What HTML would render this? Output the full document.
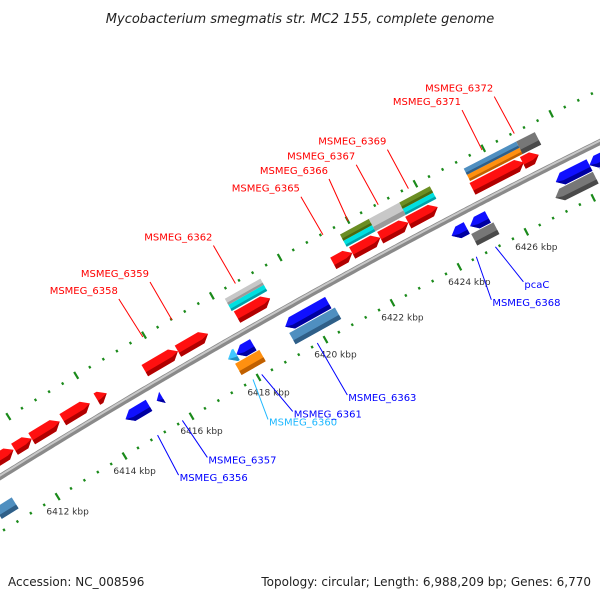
<!DOCTYPE html>
<html><head><meta charset="utf-8"><style>
html,body{margin:0;padding:0;background:#fff;}
svg{display:block;font-family:"DejaVu Sans","Liberation Sans",sans-serif;}
</style></head><body>
<svg id="map" width="600" height="600" viewBox="0 0 600 600" xmlns="http://www.w3.org/2000/svg">
<text x="300" y="23" text-anchor="middle" font-size="13" font-style="italic" fill="#222">Mycobacterium smegmatis str. MC2 155, complete genome</text>
<g id="ticks"></g>
<path id="bb" fill="none" stroke="#8a8a8a" stroke-width="6"/>
<path id="bb2" fill="none" stroke="#c8c8c8" stroke-width="2"/>
<g id="feats"></g>
<g id="labels"></g>
<text x="8" y="586" font-size="12" fill="#222">Accession: NC_008596</text>
<text x="591" y="586" font-size="12" text-anchor="end" fill="#222">Topology: circular; Length: 6,988,209 bp; Genes: 6,770</text>
</svg>
<script>
const featStart=[6410.66,6411.70,6412.21,6413.13,6414.14,6415.56,6416.54,6418.29,6421.14,6421.70,6422.53,6423.36,6425.26,6426.75,
 6418.25,6418.25,6421.65,6421.65,6422.5,6423.4,6423.4,6425.3,6425.3,6426.85,
 6414.5,6415.43,6417.55,6417.8,6419.25,6424.2,6424.75,6427.3,6428.3,
 6410.5,6417.65,6419.26,6424.68,6427.1,6428.5];
const featEnd=[6411.67,6412.21,6413.04,6413.93,6414.43,6416.54,6417.43,6419.27,6421.70,6422.53,6423.36,6424.23,6426.78,6427.22,
 6419.3,6419.3,6422.5,6422.5,6423.4,6424.3,6424.3,6426.85,6426.85,6427.4,
 6415.2,6415.6,6417.8,6418.3,6420.53,6424.65,6425.28,6428.3,6429.3,
 6411.0,6418.37,6420.62,6425.34,6428.3,6429.5];
const featRow=['F1','F1','F1','F1','F1','F1','F1','F1','F1','F1','F1','F1','F1','F1',
 'F2','F3','F2','F3','F23','F2','F3','F2','F3','F23',
 'R1','R1','R1','R1','R1','R1','R1','R1','R1',
 'R2','R2','R2','R2','R2','R2'];
const featStrand=[1,1,1,1,1,1,1,1,1,1,1,1,1,1,
 0,0,0,0,0,0,0,0,0,0,
 -1,-1,-1,-1,-1,-1,-1,-1,-1,
 0,0,0,0,-1,0];
const featColor=['red','red','red','red','red','red','red','red','red','red','red','red','red','red',
 'cyan','lgray','cyan','olive','lgray','cyan','olive','orange','steel','dgray',
 'blue','blue','cyan2','blue','blue','blue','blue','blue','blue',
 'steel','orange','steel','dgray','dgray','blue'];
const tickMajors=[6412,6414,6416,6418,6420,6422,6424,6426];
const tickLabels=['6412 kbp','6414 kbp','6416 kbp','6418 kbp','6420 kbp','6422 kbp','6424 kbp','6426 kbp'];
const labelNames=['MSMEG_6372','MSMEG_6371','MSMEG_6369','MSMEG_6367','MSMEG_6366','MSMEG_6365','MSMEG_6362','MSMEG_6359','MSMEG_6358',
 'MSMEG_6356','MSMEG_6357','MSMEG_6360','MSMEG_6361','MSMEG_6363','MSMEG_6368','pcaC'];
const labelPos=[6426.9,6425.95,6423.78,6422.89,6422.0,6421.26,6418.68,6416.81,6415.95,
 6415.0,6415.74,6417.85,6418.11,6419.77,6424.52,6425.09];
</script>
<script>
const NS='http://www.w3.org/2000/svg';
const P0=[0,477],P1=[300,290.5],P2=[600,142];
const leadDx=[-20,-20,-21,-22,-19,-22,-22,-22,-24, 21,25,15,31,30,15,28];
const leadDy=[-37,-40,-39,-40,-42,-38,-38,-38,-38, 40,37,40,37,52,43,35];
function xbb(p){return 33+(p-6412)*33.7;}
function pt(p,d){
 const x=xbb(p),t=x/600;
 const y=(1-t)*(1-t)*P0[1]+2*t*(1-t)*P1[1]+t*t*P2[1];
 const dy=2*(1-t)*(P1[1]-P0[1])+2*t*(P2[1]-P1[1]);
 const L=Math.hypot(600,dy),tx=600/L,ty=dy/L;
 return [x+(-ty)*d,y+tx*d];
}
function poly(pts){return pts.map(q=>q[0].toFixed(1)+','+q[1].toFixed(1)).join(' ');}
let dstr='';
for(let p=6410;p<=6430;p+=0.1){const q=pt(p,0);dstr+=(dstr?'L':'M')+q[0].toFixed(1)+' '+q[1].toFixed(1);}
document.getElementById('bb').setAttribute('d',dstr);
let d2='';
for(let p=6410;p<=6430;p+=0.1){const q=pt(p,-1.2);d2+=(d2?'L':'M')+q[0].toFixed(1)+' '+q[1].toFixed(1);}
document.getElementById('bb2').setAttribute('d',d2);
const tg=document.getElementById('ticks');
[-47,47].forEach(function(row){
 for(let i=0;i<=55;i++){
  const p=6410+i*0.4;
  const major=Math.abs(p-Math.round(p))<0.01&&Math.round(p)%2===0;
  const len=major?4:1.3;
  const a=pt(p,row-len),b=pt(p,row+len);
  const ln=document.createElementNS(NS,'line');
  
  
  ln.setAttribute('x1',a[0]);ln.setAttribute('y1',a[1]);ln.setAttribute('x2',b[0]);ln.setAttribute('y2',b[1]);
  ln.setAttribute('stroke','#1a8a1a');ln.setAttribute('stroke-width','2.2');
  tg.appendChild(ln);
 }
});
tickMajors.forEach(function(p,i){
 const q=pt(p,47);
 const t=document.createElementNS(NS,'text');
 
 
 t.setAttribute('x',q[0]+10);t.setAttribute('y',q[1]+18);
 t.setAttribute('text-anchor','middle');t.setAttribute('font-size','9');t.setAttribute('fill','#333');
 t.textContent=tickLabels[i];tg.appendChild(t);
});
const rows={F1:[-16,6.5],F2:[-27.5,3.5],F3:[-34.5,3.5],F23:[-31,7],R1:[16,6.5],R2:[30,6.5]};
const cols={red:['#ff1010','#b00000'],blue:['#1010ff','#0000a0'],steel:['#4f8fc0','#2f5f88'],cyan:['#00e0e0','#00a0a8'],cyan2:['#40c8ff','#2090c0'],
 lgray:['#c8c8c8','#9a9a9a'],dgray:['#777','#4a4a4a'],olive:['#6b8e23','#4a6a10'],orange:['#ff9010','#c06000']};
const fg=document.getElementById('feats');
featStart.forEach(function(s,i){
 const e=featEnd[i],r=rows[featRow[i]],c=cols[featColor[i]],st=featStrand[i];
 const d=r[0],h=r[1];
 const head=Math.min(0.2,e-s);
 let pts,shade;
 if(st===1){pts=[pt(s,d-h),pt(e-head,d-h),pt(e,d),pt(e-head,d+h),pt(s,d+h)];
  shade=[pt(s,d+h*0.3),pt(e-head,d+h*0.3),pt(e-head*0.3,d+h*0.09),pt(e,d),pt(e-head,d+h),pt(s,d+h)];}
 else if(st===-1){pts=[pt(e,d-h),pt(s+head,d-h),pt(s,d),pt(s+head,d+h),pt(e,d+h)];
  shade=[pt(e,d+h*0.3),pt(s+head,d+h*0.3),pt(s,d),pt(s+head,d+h),pt(e,d+h)];}
 else {pts=[pt(s,d-h),pt(e,d-h),pt(e,d+h),pt(s,d+h)];
  shade=[pt(s,d+h*0.3),pt(e,d+h*0.3),pt(e,d+h),pt(s,d+h)];}
 const g=document.createElementNS(NS,'g');
 
 
 const a=document.createElementNS(NS,'polygon');
 
 
 a.setAttribute('points',poly(pts));a.setAttribute('fill',c[0]);
 const b=document.createElementNS(NS,'polygon');
 
 
 b.setAttribute('points',poly(shade));b.setAttribute('fill',c[1]);
 g.appendChild(a);g.appendChild(b);fg.appendChild(g);
});
const lg=document.getElementById('labels');
labelNames.forEach(function(n,i){
 const up=i<9;
 const col=(n==='MSMEG_6360')?'#20b8ff':(up?'#ff0000':'#0000ff');
 const a=pt(labelPos[i],up?-46:46);
 const bb=[a[0]+leadDx[i],a[1]+leadDy[i]];
 const ln=document.createElementNS(NS,'line');
 
 
 ln.setAttribute('x1',a[0]);ln.setAttribute('y1',a[1]);ln.setAttribute('x2',bb[0]);ln.setAttribute('y2',bb[1]);
 ln.setAttribute('stroke',col);ln.setAttribute('stroke-width','1');
 lg.appendChild(ln);
 const t=document.createElementNS(NS,'text');
 
 
 t.setAttribute('x',up?bb[0]-1:bb[0]+1);t.setAttribute('y',up?bb[1]-5:bb[1]+6);
 t.setAttribute('text-anchor',up?'end':'start');t.setAttribute('font-size','10');t.setAttribute('fill',col);
 t.textContent=n;lg.appendChild(t);
});
</script>
</body></html>
